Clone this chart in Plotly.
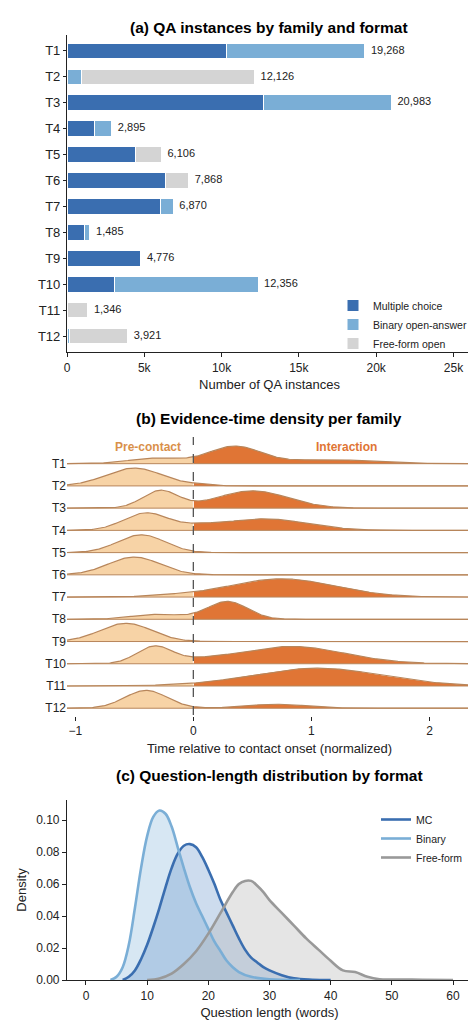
import numpy as np
import plotly.graph_objects as go

# ---------- data ----------
families = ["T1","T2","T3","T4","T5","T6","T7","T8","T9","T10","T11","T12"]
mc     = [10300, 0, 12700, 1750, 4450, 6350, 6050, 1100, 4776, 3050, 0, 0]
binary = [8968, 950, 8283, 1145, 0, 0, 820, 385, 0, 9306, 0, 150]
free   = [0, 11176, 0, 0, 1656, 1518, 0, 0, 0, 0, 1346, 3771]
totals = [19268, 12126, 20983, 2895, 6106, 7868, 6870, 1485, 4776, 12356, 1346, 3921]

# ridge components per family: (center, sigma, amplitude as fraction of row spacing)
ridge_components = {
    "T1":  [(-0.32, 0.22, 0.25), (0.35, 0.22, 0.78), (1.15, 0.35, 0.18)],
    "T2":  [(-0.50, 0.24, 0.80), (0.05, 0.10, 0.05)],
    "T3":  [(-0.28, 0.15, 0.78), (0.50, 0.30, 0.78)],
    "T4":  [(-0.40, 0.19, 0.78), (0.60, 0.36, 0.52), (0.05, 0.15, 0.12)],
    "T5":  [(-0.44, 0.20, 0.80)],
    "T6":  [(-0.50, 0.22, 0.80)],
    "T7":  [(0.75, 0.45, 0.82), (-0.20, 0.20, 0.05)],
    "T8":  [(-0.30, 0.22, 0.22), (0.29, 0.17, 0.80)],
    "T9":  [(-0.57, 0.22, 0.82)],
    "T10": [(-0.33, 0.15, 0.76), (0.83, 0.45, 0.78), (0.05, 0.2, 0.1)],
    "T11": [(1.05, 0.55, 0.80)],
    "T12": [(-0.40, 0.18, 0.80), (0.70, 0.25, 0.18)],
}

# question-length density curves
bin_x = [4,5,6,7,8,9,10,11,12,13,14,15,16,17,18,19,20,21,22,23,24,25,27,30,35]
bin_y = [0,0.002,0.008,0.022,0.045,0.07,0.09,0.102,0.106,0.104,0.096,0.083,0.07,0.058,0.048,0.04,0.032,0.024,0.018,0.012,0.008,0.005,0.002,0.0005,0]
mc_x = [6,7,8,9,10,11,12,13,14,15,16,17,18,19,20,21,22,23,24,25,26,27,28,29,30,32,34,37,40]
mc_y = [0,0.002,0.006,0.013,0.022,0.033,0.045,0.058,0.07,0.079,0.084,0.085,0.083,0.077,0.069,0.06,0.05,0.042,0.034,0.026,0.019,0.014,0.011,0.008,0.006,0.003,0.001,0.0002,0]
ff_x = [10,12,14,16,18,20,22,24,25,26,27,28,29,30,32,34,36,38,40,42,44,46,48,50,55,60]
ff_y = [0,0.001,0.004,0.01,0.018,0.029,0.042,0.055,0.06,0.062,0.062,0.059,0.055,0.05,0.042,0.034,0.026,0.019,0.012,0.006,0.005,0.002,0.0005,0.0003,0.0002,0]

# ---------- style ----------
C_MC, C_BIN, C_FREE = "#3a6eb0", "#7aaed6", "#d4d4d4"
LIGHT, DARK, OUTL = "#f7d3a6", "#e07535", "#b8865b"
FONT = "Liberation Sans"
OFF = 8                      # page body margin
W, H = 476 - OFF, 1031 - OFF
def py(p): return 1 - (p - OFF) / H
def px(p): return (p - OFF) / W

fig = go.Figure()

# ---------- (a) ----------
for name, vals, col in [("Multiple choice", mc, C_MC), ("Binary open-answer", binary, C_BIN), ("Free-form open", free, C_FREE)]:
    fig.add_trace(go.Bar(y=families, x=vals, orientation="h", name=name, marker=dict(color=col, line=dict(color="white", width=1)),
                         width=0.6, xaxis="x", yaxis="y", legend="legend"))
fig.add_trace(go.Scatter(y=families, x=totals, mode="text", text=[f"  {t:,}" for t in totals], textposition="middle right",
                         textfont=dict(size=11, color="#222"), showlegend=False, xaxis="x", yaxis="y", cliponaxis=False))

# ---------- (b) ----------
xs = np.linspace(-1.07, 2.36, 400)
n = len(families)
for i, f in enumerate(families):
    base = n - 1 - i
    dens = np.zeros_like(xs)
    for c, s, a in ridge_components[f]:
        dens += a * np.exp(-0.5 * ((xs - c) / s) ** 2)
    for mask, col in [(xs <= 0, LIGHT), (xs >= 0, DARK)]:
        xx = xs[mask]; yy = base + dens[mask]
        fig.add_trace(go.Scatter(x=np.concatenate([xx, xx[::-1]]), y=np.concatenate([yy, np.full(len(xx), base)]),
                                 fill="toself", fillcolor=col, line=dict(width=0), mode="lines",
                                 showlegend=False, hoverinfo="skip", xaxis="x2", yaxis="y2"))
    fig.add_trace(go.Scatter(x=xs, y=base + dens, mode="lines", line=dict(color=OUTL, width=1.2),
                             showlegend=False, xaxis="x2", yaxis="y2"))
    fig.add_trace(go.Scatter(x=[xs[0], xs[-1]], y=[base, base], mode="lines", line=dict(color=OUTL, width=1),
                             showlegend=False, xaxis="x2", yaxis="y2"))
fig.add_shape(type="line", x0=0, x1=0, y0=-0.3, y1=12.2, xref="x2", yref="y2", line=dict(color="#555", width=1.3, dash="dash"))
fig.add_annotation(x=-0.38, y=11.75, xref="x2", yref="y2", text="<b>Pre-contact</b>", showarrow=False, font=dict(size=12, color="#d9904a", family=FONT))
fig.add_annotation(x=1.3, y=11.75, xref="x2", yref="y2", text="<b>Interaction</b>", showarrow=False, font=dict(size=12, color=DARK, family=FONT))

# ---------- (c) ----------
for name, xx, yy, fc in [("Binary", bin_x, bin_y, "rgba(122,174,214,0.30)"),
                          ("MC", mc_x, mc_y, "rgba(90,140,200,0.30)"),
                          ("Free-form", ff_x, ff_y, "rgba(180,180,180,0.35)")]:
    fig.add_trace(go.Scatter(x=xx, y=yy, fill="tozeroy", fillcolor=fc, mode="lines", line=dict(width=0, shape="spline"),
                             showlegend=False, hoverinfo="skip", xaxis="x3", yaxis="y3"))
for name, xx, yy, lc in [("MC", mc_x, mc_y, C_MC), ("Binary", bin_x, bin_y, C_BIN), ("Free-form", ff_x, ff_y, "#999999")]:
    fig.add_trace(go.Scatter(x=xx, y=yy, mode="lines", name=name, line=dict(color=lc, width=2.6, shape="spline"),
                             xaxis="x3", yaxis="y3", legend="legend2"))

ax = dict(showline=True, linecolor="#222", linewidth=1.2, ticks="outside", ticklen=4, tickcolor="#222",
          showgrid=False, zeroline=False, tickfont=dict(size=12, color="#222"), automargin=False)
xd = [px(67), px(472)]
fig.update_layout(
    width=W, height=H, margin=dict(l=0, r=0, t=0, b=0, autoexpand=False), plot_bgcolor="white", paper_bgcolor="white",
    font=dict(family=FONT, color="#222"), barmode="stack",
    xaxis=dict(ax, domain=xd, anchor="y", range=[0, 26200], tickvals=[0, 5000, 10000, 15000, 20000, 25000],
               ticktext=["0", "5k", "10k", "15k", "20k", "25k"], title=dict(text="Number of QA instances", font=dict(size=13), standoff=6)),
    yaxis=dict(ax, domain=[py(352), py(35)], anchor="x", autorange="reversed", categoryorder="array", categoryarray=families,
               tickfont=dict(size=13), ticklen=3),
    xaxis2=dict(ax, domain=xd, anchor="y2", range=[-1.07, 2.36], tickvals=[-1, 0, 1, 2], showline=False,
                title=dict(text="Time relative to contact onset (normalized)", font=dict(size=13), standoff=6)),
    yaxis2=dict(domain=[py(716), py(437)], anchor="x2", range=[-0.35, 12.2], tickvals=list(range(n)), automargin=False,
                ticktext=families[::-1], showgrid=False, zeroline=False, showline=False, ticks="", tickfont=dict(size=12)),
    xaxis3=dict(ax, domain=xd, anchor="y3", range=[-3.1, 63.1], tickvals=[0, 10, 20, 30, 40, 50, 60],
                title=dict(text="Question length (words)", font=dict(size=13), standoff=6)),
    yaxis3=dict(ax, domain=[py(980), py(800)], anchor="x3", range=[0, 0.1126], tickvals=[0, 0.02, 0.04, 0.06, 0.08, 0.10],
                tickformat=".2f", title=dict(text="Density", font=dict(size=13), standoff=6)),
    legend=dict(x=px(333), y=py(291), xanchor="left", yanchor="top", font=dict(size=10.5), traceorder="normal",
                bgcolor="rgba(0,0,0,0)", itemwidth=30, tracegroupgap=0),
    legend2=dict(x=px(376), y=py(805), xanchor="left", yanchor="top", font=dict(size=10.5), bgcolor="rgba(0,0,0,0)", itemwidth=30),
)
for txt, ypix in [("(a) QA instances by family and format", 17), ("(b) Evidence-time density per family", 418),
                  ("(c) Question-length distribution by format", 786)]:
    fig.add_annotation(x=px(269), y=py(ypix), xref="paper", yref="paper", text=f"<b>{txt}</b>", showarrow=False,
                       font=dict(size=15.5, color="black", family=FONT))

fig.write_html("out.html")
